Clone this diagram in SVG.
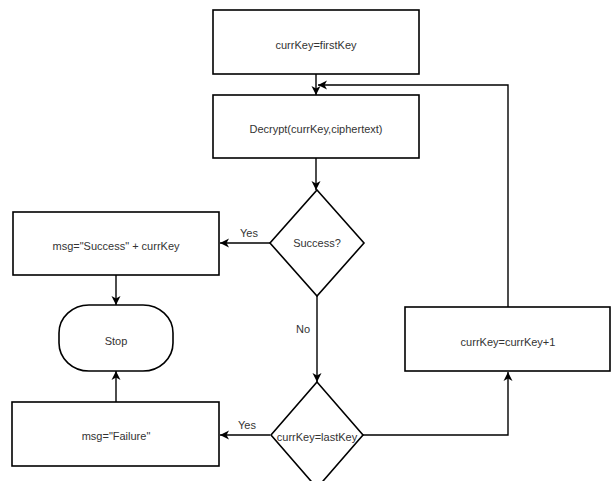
<svg xmlns="http://www.w3.org/2000/svg" width="611" height="481" viewBox="0 0 611 481">
<style>
.n{fill:#fff;stroke:#000;stroke-width:1.6}
.t{font-family:"Liberation Sans",Arial,sans-serif;font-size:11px;fill:#333;text-anchor:middle;dominant-baseline:central}
.c{fill:none;stroke:#000;stroke-width:1.4;marker-end:url(#ah)}
</style>
<defs>
<marker id="ah" markerWidth="10" markerHeight="10" viewBox="0 0 10 10" refX="9" refY="5" orient="auto" markerUnits="userSpaceOnUse">
<path d="M0,0.5 L9,5 L0,9.5 L2.5,5 Z" fill="#000"/>
</marker>
</defs>
<rect width="611" height="481" fill="#fff"/>
<g id="connectors">
<path class="c" d="M316,74 V95"/>
<path class="c" d="M316,158 V190"/>
<path class="c" d="M270,243 H220"/>
<path class="c" d="M317,296 V382"/>
<path class="c" d="M116,275 V305"/>
<path class="c" d="M116,402 V371"/>
<path class="c" d="M270,435 H220"/>
<path class="c" d="M363,435 H508 V372"/>
<path class="c" d="M508,307 V85 H318"/>
<text class="t" x="249" y="233">Yes</text>
<text class="t" x="303" y="329">No</text>
<text class="t" x="247" y="425">Yes</text>
</g>
<g id="start">
<rect class="n" x="213" y="10" width="206" height="64"/>
<text class="t" x="316" y="45">currKey=firstKey</text>
</g>
<g id="decrypt">
<rect class="n" x="213" y="95" width="206" height="63"/>
<text class="t" x="316" y="129">Decrypt(currKey,ciphertext)</text>
</g>
<g id="success">
<polygon class="n" points="317,190 364,243 317,296 270,243"/>
<text class="t" x="317" y="243">Success?</text>
</g>
<g id="msgSuccess">
<rect class="n" x="13" y="212" width="206" height="63"/>
<text class="t" x="116" y="246">msg="Success" + currKey</text>
</g>
<g id="stop">
<rect class="n" x="59" y="305" width="114" height="66" rx="30" ry="28"/>
<text class="t" x="116" y="341">Stop</text>
</g>
<g id="msgFailure">
<rect class="n" x="12" y="402" width="207" height="64"/>
<text class="t" x="116" y="436">msg="Failure"</text>
</g>
<g id="lastKey">
<polygon class="n" points="317,382 363,435 317,488 271,435"/>
<text class="t" x="317" y="437">currKey=lastKey</text>
</g>
<g id="increment">
<rect class="n" x="405" y="307" width="205" height="64"/>
<text class="t" x="508" y="342">currKey=currKey+1</text>
</g>
</svg>
